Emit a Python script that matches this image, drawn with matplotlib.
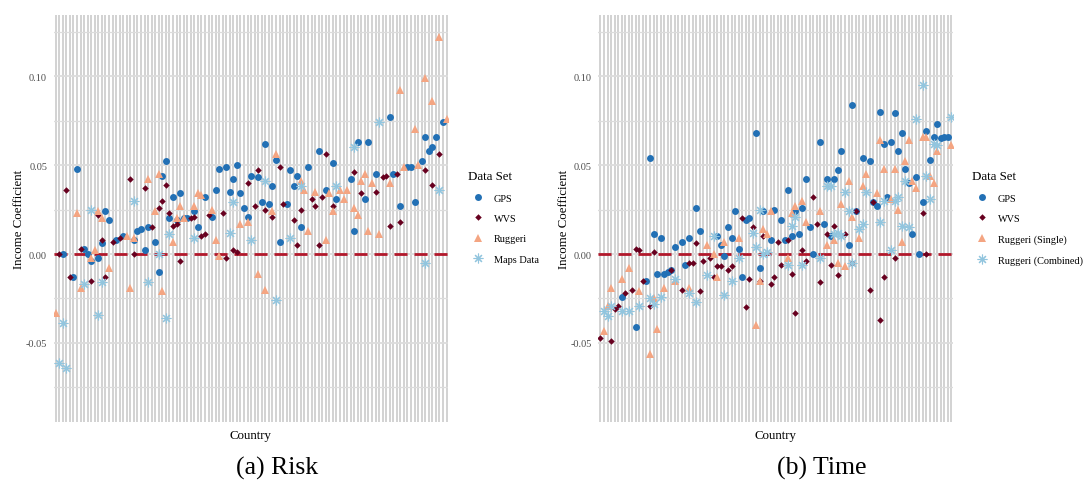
import matplotlib
matplotlib.use("Agg")
import matplotlib.pyplot as plt
from matplotlib.lines import Line2D

plt.rcParams['font.family'] = ['Liberation Serif', 'DejaVu Serif']

# number of countries on each x axis (ordered, unlabeled)
n_risk = 111
n_time = 100

# (country rank, income coefficient)
risk_gps = [(2, 0.000), (5, -0.013), (6, 0.048), (8, 0.003), (9, 0.000), (10, -0.004), (12, -0.002),
            (13, 0.006), (14, 0.024), (15, 0.019), (17, 0.008), (19, 0.010), (22, 0.008), (23, 0.013),
            (24, 0.014), (25, 0.002), (26, 0.015), (28, 0.007), (29, -0.010), (30, 0.044), (31, 0.052),
            (32, 0.020), (33, 0.032), (34, 0.019), (35, 0.034), (36, 0.020), (37, 0.020), (39, 0.024),
            (40, 0.015), (42, 0.032), (44, 0.021), (45, 0.036), (46, 0.048), (48, 0.049), (49, 0.035),
            (50, 0.042), (51, 0.050), (52, 0.034), (53, 0.026), (54, 0.021), (55, 0.044), (57, 0.043),
            (58, 0.029), (59, 0.062), (60, 0.028), (61, 0.038), (62, 0.053), (63, 0.007), (65, 0.028),
            (66, 0.047), (67, 0.038), (68, 0.044), (69, 0.015), (71, 0.049), (74, 0.058), (76, 0.036),
            (78, 0.051), (79, 0.031), (83, 0.042), (84, 0.013), (85, 0.063), (87, 0.031), (88, 0.063),
            (90, 0.045), (94, 0.077), (95, 0.045), (97, 0.027), (99, 0.049), (100, 0.049), (101, 0.029),
            (103, 0.052), (104, 0.066), (105, 0.058), (106, 0.060), (107, 0.066), (109, 0.074)]
risk_wvs = [(1, 0.000), (3, 0.036), (4, -0.013), (7, 0.003), (10, -0.015), (12, 0.022), (13, 0.008),
            (14, -0.013), (16, 0.007), (18, 0.009), (21, 0.042), (22, 0.000), (25, 0.037), (27, 0.015),
            (29, 0.026), (30, 0.030), (31, 0.039), (32, 0.023), (33, 0.016), (34, 0.017), (35, -0.004),
            (38, 0.020), (39, 0.021), (41, 0.010), (42, 0.011), (43, 0.022), (47, 0.023), (48, -0.002),
            (50, 0.002), (51, 0.001), (54, 0.040), (56, 0.027), (57, 0.047), (59, 0.025), (61, 0.021),
            (63, 0.049), (64, 0.028), (67, 0.019), (68, 0.005), (69, 0.025), (72, 0.031), (73, 0.027),
            (74, 0.005), (75, 0.032), (76, 0.056), (78, 0.027), (84, 0.046), (86, 0.034), (90, 0.035),
            (92, 0.043), (93, 0.044), (94, 0.016), (96, 0.045), (97, 0.018), (104, 0.047), (106, 0.039),
            (108, 0.056)]
risk_ruggeri = [(0, -0.033), (6, 0.023), (7, -0.019), (10, -0.002), (11, 0.002), (12, 0.024), (13, 0.020),
                (15, -0.008), (20, 0.010), (21, -0.019), (22, 0.009), (26, 0.042), (28, 0.024), (29, 0.045),
                (30, -0.021), (33, 0.007), (34, 0.020), (35, 0.027), (36, 0.020), (39, 0.027), (40, 0.034),
                (41, 0.033), (44, 0.025), (45, 0.008), (46, -0.001), (52, 0.017), (54, 0.018), (57, -0.011),
                (59, -0.020), (61, 0.024), (62, 0.056), (69, 0.041), (70, 0.036), (71, 0.013), (73, 0.035),
                (76, 0.008), (77, 0.034), (78, 0.024), (80, 0.036), (81, 0.031), (82, 0.036), (84, 0.026),
                (85, 0.022), (86, 0.041), (87, 0.045), (88, 0.013), (89, 0.040), (91, 0.011), (94, 0.040),
                (97, 0.092), (98, 0.049), (101, 0.070), (102, 0.050), (104, 0.099), (106, 0.086),
                (108, 0.122), (110, 0.076)]
risk_maps = [(1, -0.061), (2, -0.039), (3, -0.064), (8, -0.017), (10, 0.025), (12, -0.034), (13, -0.016),
             (22, 0.030), (26, -0.016), (29, 0.000), (31, -0.036), (32, 0.011), (39, 0.009), (49, 0.012),
             (50, 0.029), (55, 0.008), (59, 0.041), (62, -0.026), (66, 0.009), (69, 0.038), (79, 0.038),
             (84, 0.060), (91, 0.074), (104, -0.005), (108, 0.036)]

time_gps = [(6, -0.024), (10, -0.041), (13, -0.015), (14, 0.054), (15, 0.011), (16, -0.011), (17, 0.009),
            (18, -0.011), (19, -0.010), (20, -0.009), (21, 0.004), (23, 0.007), (24, -0.006), (25, 0.009),
            (27, 0.026), (28, 0.013), (33, 0.010), (34, 0.005), (35, -0.001), (36, 0.015), (37, 0.009),
            (38, 0.024), (39, 0.003), (40, -0.013), (41, 0.019), (42, 0.020), (44, 0.068), (45, -0.008),
            (46, 0.024), (48, 0.008), (49, 0.025), (51, 0.019), (52, 0.008), (53, 0.036), (54, 0.010),
            (55, 0.024), (56, 0.011), (57, 0.026), (58, 0.042), (59, 0.015), (60, 0.000), (62, 0.063),
            (63, 0.017), (64, 0.042), (65, 0.010), (66, 0.042), (67, 0.047), (68, 0.058), (70, 0.005),
            (71, 0.084), (72, 0.024), (74, 0.054), (76, 0.052), (77, 0.029), (78, 0.027), (79, 0.080),
            (80, 0.062), (81, 0.032), (82, 0.063), (83, 0.079), (84, 0.058), (85, 0.068), (86, 0.048),
            (87, 0.040), (88, 0.011), (89, 0.043), (90, 0.000), (91, 0.029), (92, 0.069), (93, 0.053),
            (94, 0.066), (95, 0.073), (96, 0.065), (97, 0.066), (98, 0.066)]
time_wvs = [(0, -0.047), (3, -0.049), (4, -0.031), (5, -0.029), (7, -0.022), (9, -0.020), (10, 0.003),
            (11, 0.002), (12, -0.015), (14, -0.029), (15, 0.001), (20, -0.009), (23, -0.020), (25, -0.005),
            (26, -0.005), (27, 0.006), (28, -0.021), (29, -0.004), (31, -0.002), (32, -0.013), (33, -0.007),
            (34, -0.007), (36, -0.009), (37, -0.007), (40, 0.020), (41, -0.030), (42, -0.014), (43, 0.015),
            (45, -0.015), (46, 0.010), (48, -0.017), (49, -0.013), (50, 0.007), (51, -0.006), (53, 0.008),
            (54, -0.011), (55, -0.033), (57, 0.002), (58, -0.004), (60, 0.032), (61, 0.017), (62, -0.016),
            (64, 0.011), (65, -0.006), (66, 0.016), (67, -0.012), (69, 0.011), (71, -0.005), (72, 0.024),
            (76, -0.020), (77, 0.029), (79, -0.037), (80, -0.013), (83, -0.002), (91, 0.023), (92, 0.000)]
time_ruggeri = [(1, -0.043), (2, -0.029), (3, -0.019), (6, -0.014), (8, -0.008), (11, -0.021), (14, -0.056),
                (15, -0.025), (16, -0.042), (18, -0.019), (21, -0.015), (25, -0.019), (30, 0.005),
                (32, 0.000), (33, -0.013), (35, 0.007), (39, 0.009), (44, -0.040), (45, -0.015), (46, 0.014),
                (47, 0.011), (48, 0.024), (53, -0.002), (54, 0.023), (55, 0.027), (57, 0.030), (58, 0.018),
                (62, 0.024), (64, 0.005), (66, 0.008), (67, -0.005), (68, 0.028), (69, -0.007), (70, 0.041),
                (71, 0.021), (73, 0.009), (74, 0.038), (75, 0.045), (78, 0.034), (79, 0.064), (80, 0.048),
                (82, 0.031), (83, 0.048), (84, 0.025), (85, 0.007), (86, 0.052), (87, 0.064), (88, 0.041),
                (89, 0.037), (91, 0.066), (92, 0.066), (93, 0.044), (94, 0.040), (95, 0.058), (99, 0.061)]
time_combined = [(1, -0.032), (2, -0.035), (3, -0.029), (6, -0.032), (8, -0.032), (11, -0.029), (14, -0.025),
                 (15, -0.028), (17, -0.024), (21, -0.014), (25, -0.022), (27, -0.027), (30, -0.012),
                 (32, 0.010), (35, -0.023), (37, -0.015), (39, -0.002), (43, 0.012), (44, 0.004), (45, 0.025),
                 (46, 0.000), (47, 0.001), (53, -0.006), (54, 0.016), (55, 0.021), (57, -0.006), (62, -0.002),
                 (64, 0.038), (65, 0.038), (66, 0.011), (67, 0.012), (68, 0.010), (69, 0.035), (70, 0.024),
                 (71, -0.005), (73, 0.014), (74, 0.017), (75, 0.035), (79, 0.018), (80, 0.030), (82, 0.002),
                 (83, 0.030), (84, 0.032), (85, 0.016), (86, 0.041), (87, 0.015), (89, 0.076), (91, 0.095),
                 (92, 0.044), (93, 0.031), (94, 0.062), (95, 0.061), (99, 0.077)]

risk_labels = ['GPS', 'WVS', 'Ruggeri', 'Maps Data']
time_labels = ['GPS', 'WVS', 'Ruggeri (Single)', 'Ruggeri (Combined)']

# marker styles per series (ggplot-ish shapes)
styles = [
    dict(marker='o', color='#2270b5', ms=5.0, mew=0),
    dict(marker='D', color='#67001f', ms=3.3, mew=0),
    dict(marker='^', color='#f4a582', ms=6.2, mew=0),
    dict(marker=(8, 2, 0), color='#92c5de', ms=7.0, mew=0.8),
]

W, H = 1083, 481
fig = plt.figure(figsize=(W / 100, H / 100), dpi=100)


def draw_panel(rect, n, series, labels, leg_x):
    ax = fig.add_axes(rect)
    ax.set_xlim(-0.6, n - 0.6)
    ax.set_ylim(-0.0944, 0.1343)

    # vertical grid line for every country
    ax.set_xticks(range(n))
    ax.set_xticklabels([])
    ax.grid(axis='x', color='#c6c6c6', lw=1.1, zorder=0)
    ax.set_axisbelow(True)

    ax.set_yticks([-0.05, 0.0, 0.05, 0.10])
    ax.set_yticklabels(['-0.05', '0.00', '0.05', '0.10'])
    for y in [-0.05, 0.0, 0.05, 0.10]:
        ax.axhline(y, color='#dcdcdc', lw=1.3, zorder=1)
    for y in [-0.075, -0.025, 0.025, 0.075, 0.125]:
        ax.axhline(y, color='#dcdcdc', lw=0.9, zorder=1)

    ax.tick_params(length=0)
    ax.tick_params(axis='y', labelsize=7.4, labelcolor='#4d4d4d', pad=4.7)
    for s in ax.spines.values():
        s.set_visible(False)

    ax.axhline(0, color='#b2182b', lw=2.0, ls=(0, (4.7, 2.5)), zorder=2)

    handles = []
    for pts, st, lab in zip(series, styles, labels):
        xs = [p[0] for p in pts]
        ys = [p[1] for p in pts]
        ax.plot(xs, ys, ls='none', marker=st['marker'], color=st['color'],
                ms=st['ms'], mew=st['mew'], zorder=3)
        handles.append(Line2D([], [], ls='none', marker=st['marker'], color=st['color'],
                              ms=st['ms'], mew=st['mew']))

    ax.set_xlabel('Country', fontsize=9.3, labelpad=1.8)
    ax.set_ylabel('Income Coefficient', fontsize=9.3, labelpad=0.6)

    leg = ax.legend(handles, labels, title='Data Set', loc='upper left',
                    bbox_to_anchor=(leg_x / W, 1 - 171 / H), bbox_transform=fig.transFigure,
                    frameon=False, fontsize=7.4, title_fontsize=9.3, borderpad=0,
                    borderaxespad=0, handlelength=1.94, handletextpad=0.58, labelspacing=1.1)
    leg._legend_box.align = 'left'
    return ax


draw_panel([53.6 / W, 1 - 423 / H, (448 - 53.6) / W, (423 - 16) / H], n_risk,
           [risk_gps, risk_wvs, risk_ruggeri, risk_maps], risk_labels, 468)
draw_panel([598.3 / W, 1 - 423 / H, (952.7 - 598.3) / W, (423 - 16) / H], n_time,
           [time_gps, time_wvs, time_ruggeri, time_combined], time_labels, 972)

fig.text(277 / W, 1 - 468 / H, '(a) Risk', ha='center', va='center', fontsize=18.5)
fig.text(822 / W, 1 - 468 / H, '(b) Time', ha='center', va='center', fontsize=18.5)

fig.savefig('out.png', dpi=100)
